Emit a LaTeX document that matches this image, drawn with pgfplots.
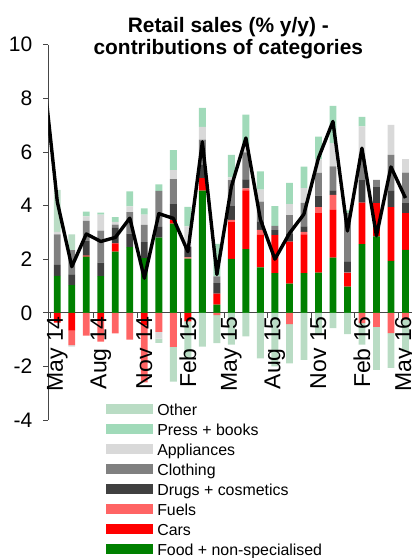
\documentclass[border=0pt]{standalone}
\usepackage{pgfplots}
\pgfplotsset{compat=1.18}
\usepackage{pgfplotstable}
\usepackage{fontspec}
\setmainfont{Liberation Sans}
\definecolor{cFood}{RGB}{0,128,0}
\definecolor{cCars}{RGB}{255,0,0}
\definecolor{cFuels}{RGB}{255,100,100}
\definecolor{cDrugs}{RGB}{64,64,64}
\definecolor{cCloth}{RGB}{128,128,128}
\definecolor{cAppl}{RGB}{217,217,217}
\definecolor{cPress}{RGB}{160,218,185}
\definecolor{cOther}{RGB}{185,220,196}
\definecolor{axc}{RGB}{70,70,70}
\newcommand\ytl{\fontsize{21bp}{21bp}\selectfont}
\newcommand\xtl{\fontsize{23bp}{23bp}\selectfont}
\newcommand\ls{\rule[-6bp]{0pt}{20.1bp}}

% positive contributions (stacked upwards)
\pgfplotstableread{
x food cars fuels drugs clothing appl press other
0 1.38 0 0 0.41 1.13 0.10 0 1.56
1 1.03 0 0 0.40 0.91 0 0 0.58
2 2.09 0.04 0 0.56 0.74 0.17 0.17 0
3 1.37 0 0 0.50 1.19 0.60 0.08 0
4 2.28 0.31 0 0.58 0.12 0.10 0.18 0
5 2.45 0 0 0.50 0.80 0.22 0.56 0
6 2.04 0 0 0.60 0.64 0.38 0.23 0
7 2.80 0 0 0.40 1.35 0 0.24 0
8 3.33 0.13 0 0.59 0.94 0.33 0.75 0
9 2.02 0 0.05 0.40 0 0.75 0.73 0
10 4.56 0.46 0 0.50 0.94 0.47 0.71 0
11 0.30 0.41 0 0.40 0.25 0 1.21 0
12 2.01 1.39 0.07 0.51 0.97 0.10 0.84 0
13 2.37 2.20 0.07 0.34 1.00 0.30 1.11 0
14 1.69 1.22 0.18 0.30 0.76 0.44 0.68 0
15 1.48 1.42 0 0.18 0.16 0 0.74 0
16 1.09 1.56 0 0.31 0.68 0.41 0.80 0
17 1.48 1.44 0.10 0.20 0.88 0.55 0.80 0
18 1.50 2.24 0.20 0.43 0.85 0.50 0.85 0
19 2.06 1.78 0.56 0.17 0.89 0.87 1.39 0
20 0.98 0.50 0.02 0.42 1.80 0 0.10 0
21 2.56 1.55 0 0.84 0.80 1.20 0.36 0
22 2.85 1.24 0 0.60 0.27 0 0 0
23 1.94 2.00 0 0.61 1.34 1.12 0 0
24 2.35 1.37 0 0.37 1.14 0.50 0 0
}\postab

% negative contributions (stacked downwards)
\pgfplotstableread{
x cars fuels appl other
0 -0.37 0 0 0
1 -0.67 -0.54 -0.05 0
2 0 -0.85 0 0
3 -0.27 -0.81 0 0
4 0 -0.77 0 0
5 0 -1.00 0 0
6 -0.47 -2.13 0 0
7 0 -0.71 -0.25 -0.16
8 0 -1.27 0 -1.30
9 -0.32 0 0 -1.37
10 0 0 0 -1.26
11 0 -0.09 0 -1.04
12 0 0 0 -1.19
13 0 0 0 -0.88
14 0 0 0 -1.70
15 0 0 0 -2.00
16 0 -0.42 0 -1.47
17 0 0 0 -1.76
18 0 0 0 -0.80
19 0 0 0 -0.57
20 0 0 0 -0.80
21 0 -0.39 0 -0.80
22 0 -0.53 0 -1.60
23 0 -0.76 0 -1.30
24 0 -0.26 0 -1.20
}\negtab

% total retail sales (% y/y)
\pgfplotstableread{
x y
-1 9.20
0 4.14
1 1.72
2 2.94
3 2.66
4 2.81
5 3.53
6 1.29
7 3.70
8 3.52
9 2.28
10 6.38
11 1.43
12 4.71
13 6.52
14 3.48
15 2.00
16 2.96
17 3.68
18 5.77
19 7.14
20 3.05
21 6.14
22 2.87
23 5.44
24 4.28
}\tottab

\pgfplotsset{
  base/.style={
    at={(0,0)}, anchor=south west, scale only axis,
    width=363.7bp, height=375.3bp,
    xmin=-0.62, xmax=24.45, ymin=-4, ymax=10,
    clip=true,
  },
}

\begin{document}
\begin{tikzpicture}
% axis 1: axes + positive stacks + legend
\begin{axis}[base,
  ybar stacked, bar width=0.47,
  axis x line=middle, axis y line=left,
  every inner x axis line/.append style={-},
  every outer y axis line/.append style={-},
  axis line style={-, draw=axc, line width=0.8bp},
  xtick={-0.5,2.5,...,23.5}, xticklabels={},
  ytick={-4,-2,0,2,4,6,8,10},
  yticklabels={{\ytl -4},{\ytl -2},{\ytl 0},{\ytl 2},{\ytl 4},{\ytl 6},{\ytl 8},{\ytl 10}},
  hide obscured y ticks=false, hide obscured x ticks=false,
  tick align=outside, major tick length=5bp,
  tick style={draw=axc, line width=0.8bp},
  yticklabel style={font=\ytl, xshift=-7.5bp},
  reverse legend,
  legend cell align=left,
  legend image code/.code={\fill[#1] (0bp,-4.65bp) rectangle (46.7bp,4.65bp);},
  legend style={draw=none, fill=none,
    at={(axis description cs:0.1586,0.0502)}, anchor=north west,
    inner sep=0pt, outer sep=0pt, row sep=4.4bp,
    font=\fontsize{15.9bp}{20.1bp}\selectfont,
    nodes={inner sep=0pt},
    /tikz/every odd column/.append style={column sep=4.6bp}},
]
\addplot[fill=cFood, draw=none] table[x=x,y=food]{\postab};
\addlegendentry{\ls Food + non-specialised}
\addplot[fill=cCars, draw=none] table[x=x,y=cars]{\postab};
\addlegendentry{\ls Cars}
\addplot[fill=cFuels, draw=none] table[x=x,y=fuels]{\postab};
\addlegendentry{\ls Fuels}
\addplot[fill=cDrugs, draw=none] table[x=x,y=drugs]{\postab};
\addlegendentry{\ls Drugs + cosmetics}
\addplot[fill=cCloth, draw=none] table[x=x,y=clothing]{\postab};
\addlegendentry{\ls Clothing}
\addplot[fill=cAppl, draw=none] table[x=x,y=appl]{\postab};
\addlegendentry{\ls Appliances}
\addplot[fill=cPress, draw=none] table[x=x,y=press]{\postab};
\addlegendentry{\ls Press + books}
\addplot[fill=cOther, draw=none] table[x=x,y=other]{\postab};
\addlegendentry{\ls Other}
\end{axis}
% axis 2: negative stacks
\begin{axis}[base, hide axis, ybar stacked, bar width=0.47]
\addplot[fill=cCars, draw=none] table[x=x,y=cars]{\negtab};
\addplot[fill=cFuels, draw=none] table[x=x,y=fuels]{\negtab};
\addplot[fill=cAppl, draw=none] table[x=x,y=appl]{\negtab};
\addplot[fill=cOther, draw=none] table[x=x,y=other]{\negtab};
\end{axis}
% axis 3: total line + category labels
\begin{axis}[base,
  axis x line=middle, axis y line=none,
  x axis line style={draw=none},
  xtick={0,3,...,24},
  xticklabels={{\xtl May 14},{\xtl Aug 14},{\xtl Nov 14},{\xtl Feb 15},{\xtl May 15},{\xtl Aug 15},{\xtl Nov 15},{\xtl Feb 16},{\xtl May 16}},
  major tick length=0pt, hide obscured x ticks=false,
  ytick=\empty,
  xticklabel style={rotate=90, anchor=east, font=\xtl},
]
\addplot[black, line width=3.4bp, line join=round, mark=none] table[x=x,y=y]{\tottab};
\end{axis}
\node[anchor=north, align=center, inner sep=0pt,
  font=\bfseries\fontsize{20.9bp}{22.3bp}\selectfont] at (180bp,403.2bp)
  {Retail sales (\% y/y) -\\contributions of categories};
\pgfresetboundingbox
\path[use as bounding box] (-48.3bp,-138bp) rectangle (363.7bp,420bp);
\end{tikzpicture}
\end{document}
